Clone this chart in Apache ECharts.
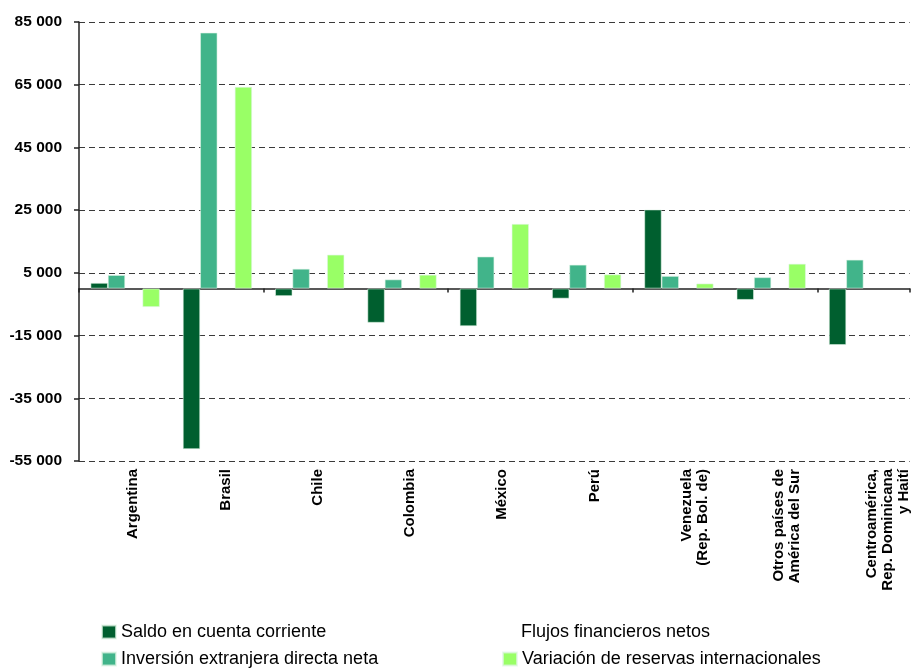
<!DOCTYPE html>
<html>
<head>
<meta charset="utf-8">
<script src="https://cdn.jsdelivr.net/npm/echarts@6/dist/echarts.min.js"></script>
<style>
  html, body { margin: 0; padding: 0; background: #fff; }
  #chart { width: 911px; height: 668px; }
</style>
</head>
<body>
<div id="chart"></div>
<script>
// Country / region groups on the category axis
const categories = [
  'Argentina', 'Brasil', 'Chile', 'Colombia', 'México', 'Perú',
  'Venezuela\n(Rep. Bol. de)', 'Otros países de\nAmérica del Sur',
  'Centroamérica,\nRep. Dominicana\ny Haití'
];

// Series values (millones de dólares)
const saldoCuentaCorriente = [1800, -51200, -2400, -10900, -12000, -3200, 25200, -3600, -18000];
const inversionExtranjera  = [4300, 81600, 6300, 2900, 10200, 7600, 4000, 3600, 9200];
const flujosFinancieros    = [null, null, null, null, null, null, null, null, null];
const variacionReservas    = [-5900, 64300, 10800, 4400, 20600, 4500, 1600, 7900, null];

// Series names (legend order: two columns)
const seriesNames = [
  'Saldo en cuenta corriente',
  'Inversión extranjera directa neta',
  'Flujos financieros netos',
  'Variación de reservas internacionales'
];

// Value axis ticks
const yMin = -55000, yMax = 85000, yStep = 20000;

const FONT = "'Liberation Sans', Arial, sans-serif";

function fmtThousands(v) {
  const s = Math.abs(v).toString().replace(/\B(?=(\d{3})+(?!\d))/g, ' ');
  return (v < 0 ? '-' : '') + s;
}

// one legend block per entry, laid out as a 2 x 2 grid
function legendItem(name, left, top) {
  return {
    left: left, top: top, orient: 'horizontal', padding: 0,
    itemWidth: 14, itemHeight: 13, icon: 'rect',
    selectedMode: false,
    textStyle: { fontSize: 18, color: '#000', fontFamily: FONT },
    data: [name]
  };
}

const chart = echarts.init(document.getElementById('chart'), null, { renderer: 'canvas' });

const barBorder = { borderColor: 'rgba(225,245,230,0.7)', borderWidth: 0.8 };

chart.setOption({
  animation: false,
  textStyle: { fontFamily: FONT },
  grid: { left: 79, right: -8, top: 22, bottom: 207, containLabel: false },
  xAxis: [
    {
      type: 'category',
      data: categories,
      position: 'bottom',
      axisLine: { show: false, onZero: false },
      axisTick: { show: false },
      axisLabel: {
        interval: 0,
        rotate: 90,
        align: 'right',
        verticalAlign: 'top',
        margin: 8,
        fontSize: 15,
        lineHeight: 16,
        fontWeight: 'bold',
        color: '#000',
        fontFamily: FONT
      },
      splitLine: { show: false }
    },
    {
      // zero baseline with boundary ticks
      type: 'category',
      data: categories,
      position: 'bottom',
      axisLine: { show: true, onZero: true, lineStyle: { color: '#222', width: 1.5 } },
      axisTick: { show: true, length: 4, lineStyle: { color: '#222', width: 1.5 } },
      axisLabel: { show: false },
      splitLine: { show: false }
    }
  ],
  yAxis: {
    type: 'value',
    min: yMin,
    max: yMax,
    interval: yStep,
    axisLine: { show: true, lineStyle: { color: '#222', width: 1.5 } },
    axisTick: { show: true, length: 5, lineStyle: { color: '#222', width: 1.5 } },
    axisLabel: {
      margin: 17,
      fontSize: 15.5,
      fontWeight: 'bold',
      color: '#000',
      fontFamily: FONT,
      formatter: fmtThousands
    },
    splitLine: { show: true, lineStyle: { color: '#3a3a3a', width: 1, type: [6, 4] } }
  },
  legend: [
    legendItem(seriesNames[0], 101, 623),
    legendItem(seriesNames[1], 101, 650),
    legendItem(seriesNames[2], 502, 623),
    legendItem(seriesNames[3], 502, 650)
  ],
  series: [
    {
      name: seriesNames[0], type: 'bar', xAxisIndex: 0,
      data: saldoCuentaCorriente, barGap: '0%', barCategoryGap: '25%',
      itemStyle: Object.assign({ color: '#005F2F' }, barBorder)
    },
    {
      name: seriesNames[1], type: 'bar', xAxisIndex: 0,
      data: inversionExtranjera,
      itemStyle: Object.assign({ color: '#41B48A' }, barBorder)
    },
    {
      name: seriesNames[2], type: 'bar', xAxisIndex: 0,
      data: flujosFinancieros,
      itemStyle: { color: 'rgba(255,255,255,0)' }
    },
    {
      name: seriesNames[3], type: 'bar', xAxisIndex: 0,
      data: variacionReservas,
      itemStyle: Object.assign({ color: '#99FF66' }, barBorder)
    }
  ]
});
</script>
</body>
</html>
